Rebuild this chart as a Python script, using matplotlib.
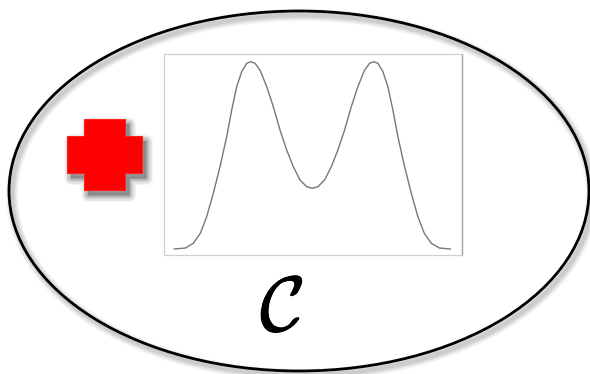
import numpy as np
import matplotlib
matplotlib.use("Agg")
import matplotlib.pyplot as plt
import matplotlib.patheffects as pe
from matplotlib.patches import Ellipse, Polygon

# curve: horizontal offset from the centre and height above baseline
curve_x = [-138, -127, -119, -112, -105.6, -99, -92.3, -85.6, -80.6, -75.6, -70.6,
           -65.6, -61.6, -57.3, -52.3, -45.6, -39, -32.3, -25.6, -19, -12.3, -5.6,
           0,
           5.6, 12.3, 19, 25.6, 32.3, 39, 45.6, 52.3, 57.3, 61.6, 65.6, 70.6, 75.6,
           80.6, 85.6, 92.3, 99, 105.6, 112, 119, 127, 138]
curve_y = [0, 1, 5.7, 15.7, 32.3, 55.7, 82.3, 112.3, 139, 162.3, 177.3,
           185.7, 187.3, 185.7, 179, 162.3, 142.3, 119, 99, 82.3, 69, 62.3,
           60.7,
           62.3, 69, 82.3, 99, 119, 142.3, 162.3, 179, 185.7, 187.3, 185.7, 177.3,
           162.3, 139, 112.3, 82.3, 55.7, 32.3, 15.7, 5.7, 1, 0]

label = r"$\mathcal{C}$"

W, H = 590, 374
plt.rcParams["mathtext.fontset"] = "cm"

fig = plt.figure(figsize=(W / 100, H / 100), dpi=100)
ax = fig.add_axes([0, 0, 1, 1])
ax.set_xlim(0, W)
ax.set_ylim(H, 0)
ax.axis("off")

# ellipse with a soft shadow
cx, cy, a, b = 299, 191, 290, 180
for i, lw in enumerate([9, 7, 5, 3]):
    ax.add_patch(Ellipse((cx + 3, cy + 4), 2 * a, 2 * b, fill=False,
                         ec="0.5", lw=lw, alpha=0.07 + 0.03 * i))
ax.add_patch(Ellipse((cx, cy), 2 * a, 2 * b, fill=False, ec="black", lw=2.0))

# red plus with shadow
plus = [(83.7, 119), (125.3, 119), (125.3, 136), (142, 136), (142, 172.7),
        (125.3, 172.7), (125.3, 190), (83.7, 190), (83.7, 172.7), (66.7, 172.7),
        (66.7, 136), (83.7, 136)]
for i, lw in enumerate([10, 8, 6, 4, 2]):
    sh = [(px + 4, py + 5) for px, py in plus]
    ax.add_patch(Polygon(sh, closed=True, fc="0.35", ec="0.35", lw=lw,
                         alpha=0.06 + 0.03 * i, joinstyle="round"))
ax.add_patch(Polygon(plus, closed=True, fc="#ff0000", ec="#ff2020", lw=0.8))

ax.text(282, 309, label, fontsize=56, ha="center", va="center",
        path_effects=[pe.withStroke(linewidth=0.7, foreground="black")])

# inset density plot
ins = fig.add_axes([164 / W, 1 - 255 / H, (461.5 - 164) / W, (255 - 54) / H])
ins.plot(curve_x, curve_y, color="#777777", lw=1.0)
ins.set_xlim(164 - 312.3, 461.5 - 312.3)
ins.set_ylim(249 - 255, 249 - 54)
ins.set_xticks([])
ins.set_yticks([])
for side in ["top", "bottom", "left"]:
    ins.spines[side].set_color("#d0d0d0")
    ins.spines[side].set_linewidth(0.9)
ins.spines["right"].set_color("#a0a0a0")
ins.spines["right"].set_linewidth(1.0)

fig.savefig("out.png", dpi=100)
